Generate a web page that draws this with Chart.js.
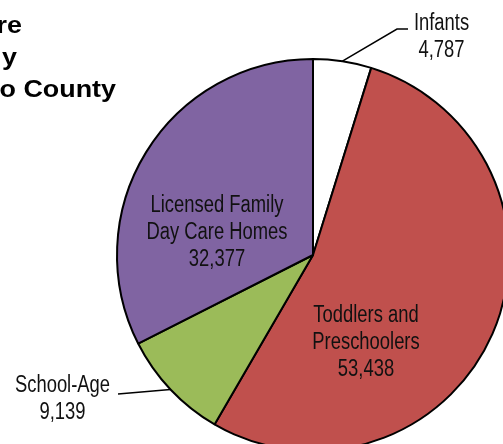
<!DOCTYPE html>
<html>
<head>
<meta charset="utf-8">
<script src="https://cdn.jsdelivr.net/npm/chart.js@4.4.1/dist/chart.umd.min.js"></script>
<style>
  html, body { margin: 0; padding: 0; background: #fff; overflow: hidden; }
  #wrap { position: relative; width: 503px; height: 444px; overflow: hidden; }
  #chart-render { position: absolute; left: 0; top: 0; }
</style>
</head>
<body>
<div id="wrap">
  <canvas id="chart-render" width="626" height="510"></canvas>
</div>
<script>
// slices, clockwise from 12 o'clock
const categories = ["Infants", "Toddlers and Preschoolers", "School-Age", "Licensed Family Day Care Homes"];
const capacity = [4787, 53438, 9139, 32377];
const labelLines = [
    ["Infants", "4,787"],
    ["Toddlers and", "Preschoolers", "53,438"],
    ["School-Age", "9,139"],
    ["Licensed Family", "Day Care Homes", "32,377"]
];
// what is left of the title in the cropped picture
const titleLines = ["re", "y", "o County"];

const sliceColors = ["#ffffff", "#c0504d", "#9bbb59", "#8064a2"];
const labelFont = '23px "Liberation Sans", Arial, sans-serif';
const lineGap = 27;

// label placement, px from the pie centre (cap centre of first line)
let labelLayout = [
    { dx: 128.5, dy: -233, leader: [[84, -226], [95, -226]] },
    { dx: 53, dy: 58.5 },
    { dx: -250.5, dy: 129, leader: [[-195, 139]] },
    { dx: -96, dy: -51.5 }
];

// fake a condensed face by squeezing the text horizontally
function squeezedText(ctx, text, x, y, sx) {
    ctx.save();
    ctx.translate(x, y);
    ctx.scale(sx, 1);
    ctx.fillText(text, 0, 0);
    ctx.restore();
}

const pieLabels = {
    id: "pieLabels",
    afterDatasetsDraw(chart) {
        let ctx = chart.ctx;
        let meta = chart.getDatasetMeta(0);
        ctx.save();

        // title fragments
        ctx.fillStyle = "#000";
        ctx.font = 'bold 24px "Liberation Sans", Arial, sans-serif';
        ctx.textAlign = "right";
        ctx.textBaseline = "alphabetic";
        let titleRight = [22, 17, 116];
        titleLines.forEach((t, i) => squeezedText(ctx, t, titleRight[i], 33 + i * 32, 1.12));

        meta.data.forEach((arc, i) => {
            let p = arc.getProps(["x", "y", "startAngle", "endAngle", "outerRadius"], true);
            let lay = labelLayout[i];
            if (lay.leader) {
                let mid = (p.startAngle + p.endAngle) / 2;
                ctx.beginPath();
                ctx.moveTo(p.x + Math.cos(mid) * p.outerRadius, p.y + Math.sin(mid) * p.outerRadius);
                lay.leader.forEach(pt => ctx.lineTo(p.x + pt[0], p.y + pt[1]));
                ctx.strokeStyle = "#000";
                ctx.lineWidth = 1.5;
                ctx.stroke();
            }
            ctx.font = labelFont;
            ctx.fillStyle = "#111";
            ctx.textAlign = "center";
            labelLines[i].forEach((line, j) => {
                squeezedText(ctx, line, p.x + lay.dx, p.y + lay.dy + 8 + j * lineGap, 0.8);
            });
        });
        ctx.restore();
    }
};

let canva = document.getElementById("chart-render");
window.capacityChart = new Chart(canva.getContext("2d"), {
    type: "pie",
    data: {
        labels: categories,
        datasets: [{
            data: capacity,
            backgroundColor: sliceColors,
            borderColor: "#000000",
            borderWidth: 2
        }]
    },
    options: {
        responsive: false,
        animation: false,
        devicePixelRatio: 1,
        radius: 196,
        layout: { padding: 0 },
        plugins: {
            legend: { display: false },
            tooltip: { enabled: false }
        }
    },
    plugins: [pieLabels]
});
</script>
</body>
</html>
